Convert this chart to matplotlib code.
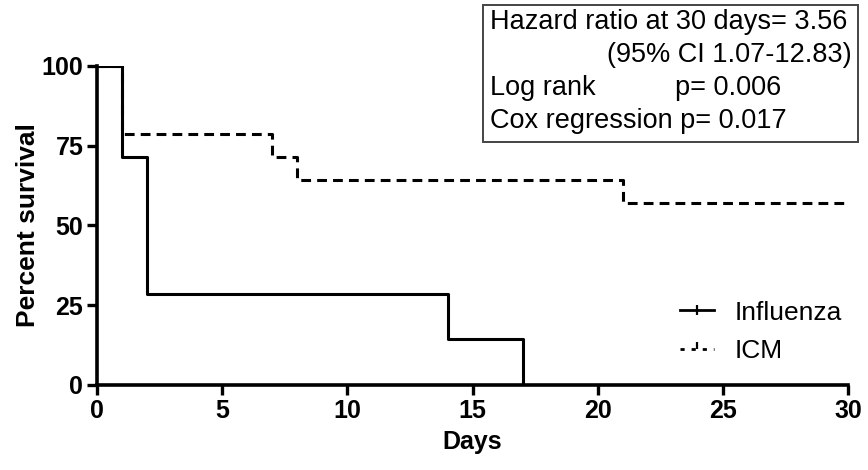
import matplotlib
matplotlib.use('Agg')
import matplotlib.pyplot as plt
from matplotlib.lines import Line2D
from matplotlib.patches import Rectangle

plt.rcParams['font.family'] = ['Liberation Sans', 'DejaVu Sans']

# Kaplan-Meier steps (days, percent survival)
flu_days = [0, 1, 2, 14, 17, 17]
flu_surv = [100, 71.4, 28.6, 14.3, 0, 0]
icm_days = [0, 1, 7, 8, 21, 30]
icm_surv = [100, 78.6, 71.4, 64.3, 57.1, 57.1]

xticks = [0, 5, 10, 15, 20, 25, 30]
yticks = [0, 25, 50, 75, 100]

fig = plt.figure(figsize=(8.68, 4.70), dpi=100)
ax = fig.add_axes([0.112, 0.181, 0.865, 0.679])

ax.step(icm_days, icm_surv, where='post', color='black', lw=2.2,
        linestyle=(0, (3.2, 2.0)), label='ICM')
ax.step(flu_days, flu_surv, where='post', color='black', lw=2.2,
        label='Influenza')

ax.set_xlim(0, 30)
ax.set_ylim(0, 100)
ax.set_xticks(xticks)
ax.set_yticks(yticks)
for s in ['top', 'right']:
    ax.spines[s].set_visible(False)
for s in ['left', 'bottom']:
    ax.spines[s].set_linewidth(2.6)
ax.tick_params(direction='out', length=7, width=2.4, labelsize=18, pad=3)
for lab in ax.get_xticklabels() + ax.get_yticklabels():
    lab.set_fontweight('bold')
ax.set_xlabel('Days', fontsize=18, fontweight='bold', labelpad=5)
ax.set_ylabel('Percent survival', fontsize=19, fontweight='bold', labelpad=1)

handles = [
    Line2D([0], [0], color='black', lw=2, marker='|', markersize=7,
           markeredgewidth=1.6),
    Line2D([0], [0], color='black', lw=2, linestyle=(0, (1.5, 2.5)),
           marker=2, markersize=5, markeredgewidth=1.6),
]
ax.legend(handles, ['Influenza', 'ICM'], loc='center left',
          bbox_to_anchor=(0.783, 0.294), bbox_transform=fig.transFigure,
          frameon=False, fontsize=19, handlelength=1.3, labelspacing=0.55,
          handletextpad=0.8, borderpad=0, borderaxespad=0)

# statistics box
fig.add_artist(Rectangle((0.5565, 0.698), 0.432, 0.2915,
                         transform=fig.transFigure, facecolor='white',
                         edgecolor='#444444', lw=1.4))
tx = 490 / 868
fig.text(tx, 1 - 22 / 470, 'Hazard ratio at 30 days= 3.56', fontsize=19.5,
         ha='left', va='center')
fig.text(852 / 868, 1 - 55 / 470, '(95% CI 1.07-12.83)', fontsize=19.5,
         ha='right', va='center')
fig.text(tx, 1 - 88 / 470, 'Log rank', fontsize=19.5, ha='left', va='center')
fig.text(675 / 868, 1 - 88 / 470, 'p= 0.006', fontsize=19.5, ha='left',
         va='center')
fig.text(tx, 1 - 121 / 470, 'Cox regression p= 0.017', fontsize=19.5,
         ha='left', va='center')

fig.savefig('out.png', dpi=100)
